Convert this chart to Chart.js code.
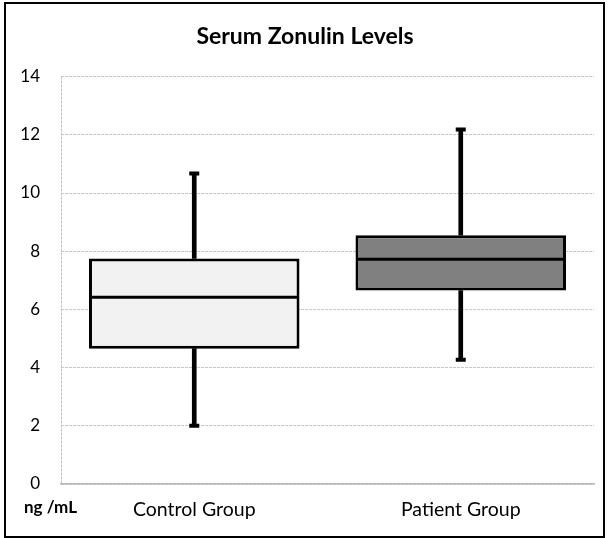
<!DOCTYPE html>
<html>
<head>
<meta charset="utf-8">
<script src="https://cdn.jsdelivr.net/npm/chart.js@4"></script>
<style>
  body { margin: 0; background: #fff; }
  #wrap { position: relative; width: 612px; height: 538px; }
  #frame { position: absolute; left: 4px; top: 2px; width: 597px; height: 532px; border: 2px solid #000; pointer-events: none; }
  #unit { position: absolute; left: 24px; top: 496px; font: bold 17px Lato, sans-serif; color: #000; }
</style>
</head>
<body>
<div id="wrap">
  <canvas id="chart" width="612" height="538"></canvas>
  <div id="frame"></div>
  <div id="unit">ng /mL</div>
</div>
<script>
// Valores (ng/mL)
const categories = ['Control Group', 'Patient Group'];
const minValues = [2.0, 4.27];
const q1Values = [4.65, 6.65];
const medianValues = [6.42, 7.72];
const q3Values = [7.75, 8.55];
const maxValues = [10.67, 12.18];
const boxColors = ['#f2f2f2', '#808080'];
const yTicks = [0, 2, 4, 6, 8, 10, 12, 14];

const boxes = categories.map((c, i) => [q1Values[i], q3Values[i]]);
const upperWhiskers = categories.map((c, i) => [q3Values[i], maxValues[i]]);
const lowerWhiskers = categories.map((c, i) => [minValues[i], q1Values[i]]);
const caps = [];
categories.forEach((c, i) => {
    caps.push({ x: c, y: maxValues[i] });
    caps.push({ x: c, y: minValues[i] });
});

const ctx = document.getElementById('chart').getContext('2d');
new Chart(ctx, {
    type: 'bar',
    data: {
        labels: categories,
        datasets: [
            {
                label: 'box',
                data: boxes,
                backgroundColor: boxColors,
                borderColor: '#000',
                borderWidth: 3,
                borderSkipped: false,
                categoryPercentage: 1,
                barPercentage: 0.79,
                grouped: false,
                order: 2
            },
            {
                label: 'upper',
                data: upperWhiskers,
                backgroundColor: '#000',
                borderWidth: 0,
                barThickness: 4,
                grouped: false,
                order: 3
            },
            {
                label: 'lower',
                data: lowerWhiskers,
                backgroundColor: '#000',
                borderWidth: 0,
                barThickness: 4,
                grouped: false,
                order: 3
            },
            {
                type: 'line',
                label: 'median',
                data: medianValues,
                showLine: false,
                pointStyle: 'line',
                pointRadius: 104,
                pointBorderWidth: 3,
                pointBorderColor: '#000',
                order: 0
            },
            {
                type: 'line',
                label: 'caps',
                data: caps,
                showLine: false,
                pointStyle: 'line',
                pointRadius: 5,
                pointBorderWidth: 4,
                pointBorderColor: '#000',
                order: 0
            }
        ]
    },
    options: {
        responsive: false,
        animation: false,
        layout: { autoPadding: false, padding: { left: 16, right: 18, top: 0, bottom: 0 } },
        plugins: {
            legend: { display: false },
            tooltip: { enabled: false },
            title: {
                display: true,
                text: 'Serum Zonulin Levels',
                color: '#000',
                font: { family: 'Lato, sans-serif', size: 23, weight: 'bold' },
                padding: { top: 23, bottom: 26 }
            }
        },
        scales: {
            x: {
                grid: {
                    drawTicks: false,
                    color: function (c) { return c.index === 0 ? '#c0c0c0' : 'rgba(0,0,0,0)'; }
                },
                border: { color: '#b8b8b8', width: 1.5, dash: [3, 1] },
                ticks: {
                    color: '#000',
                    font: { family: 'Lato, sans-serif', size: 19.5 },
                    padding: 14
                },
                afterFit: function (scale) { scale.height = 54; }
            },
            y: {
                min: 0,
                max: 14,
                afterBuildTicks: function (scale) {
                    scale.ticks = yTicks.map(v => ({ value: v }));
                },
                grid: { color: '#c8c8c8', lineWidth: 1, drawTicks: false },
                border: { display: false, dash: [3, 1] },
                ticks: {
                    color: '#000',
                    font: { family: 'Lato, sans-serif', size: 17 },
                    padding: 21
                },
                afterFit: function (scale) { scale.width = 45; }
            }
        }
    }
});
</script>
</body>
</html>
